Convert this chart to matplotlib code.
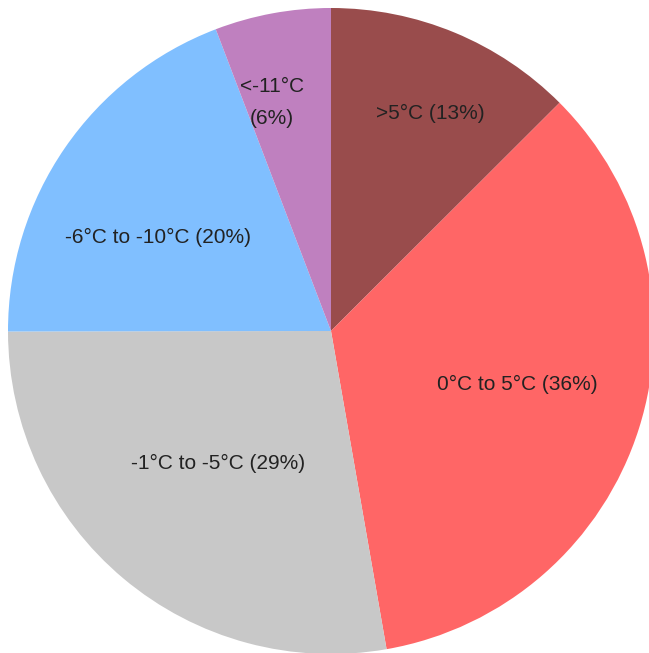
import numpy as np
import matplotlib
matplotlib.use("Agg")
import matplotlib.pyplot as plt

# slice sizes (clockwise from 12 o'clock)
labels = [">5°C (13%)", "0°C to 5°C (36%)", "-1°C to -5°C (29%)",
          "-6°C to -10°C (20%)", "<-11°C\n(6%)"]
sizes = [12.5, 34.7, 27.7, 19.2, 5.8]
colors = ["#994c4c", "#ff6666", "#c8c8c8", "#80bfff", "#bf80bf"]
# where each label sits: fraction of radius, and angle nudge (deg)
label_r = [0.74, 0.60, 0.54, 0.61, 0.73]
label_da = [-2.1, 1.5, -0.4, 6.2, 4.0]

W, H = 649, 653
fig = plt.figure(figsize=(W / 100, H / 100), dpi=100)
ax = fig.add_axes([0, 0, 1, 1])

cx, cy, R = 331, H - 331, 323
wedges, _ = ax.pie(sizes, colors=colors, startangle=90, counterclock=False,
                   center=(cx, cy), radius=R, frame=True,
                   wedgeprops=dict(linewidth=0))
ax.set_xlim(0, W)
ax.set_ylim(0, H)
ax.set_aspect("equal")
ax.axis("off")

for w, lab, lr, da in zip(wedges, labels, label_r, label_da):
    ang = np.deg2rad((w.theta1 + w.theta2) / 2 + da)
    x = cx + lr * R * np.cos(ang)
    y = cy + lr * R * np.sin(ang)
    ax.text(x, y, lab, ha="center", va="center", fontsize=15,
            family="Liberation Sans", color="#222222", linespacing=1.85)

fig.savefig("out.png", dpi=100)
